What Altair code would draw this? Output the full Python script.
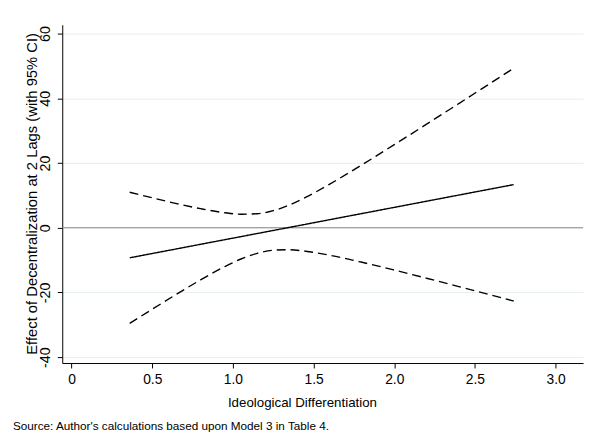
import altair as alt
import pandas as pd

# Ideological differentiation values at which the effect is evaluated
xs = [0.36, 0.5, 0.65, 0.8, 0.95, 1.05, 1.15, 1.25, 1.35, 1.45, 1.6, 1.8, 2.0, 2.2, 2.4, 2.6, 2.74]
# Marginal effect of decentralization (2 lags)
effect = [-9.30, -7.97, -6.55, -5.12, -3.70, -2.75, -1.80, -0.85, 0.10, 1.05, 2.48, 4.38, 6.28, 8.18, 10.08, 11.98, 13.31]
# Upper 95% CI
upper = [10.95, 9.23, 7.46, 5.87, 4.61, 4.17, 4.31, 5.26, 7.02, 9.36, 13.47, 19.44, 25.65, 31.97, 38.35, 44.76, 49.27]
# Lower 95% CI
lower = [-29.55, -25.17, -20.56, -16.11, -12.01, -9.67, -7.91, -6.96, -6.82, -7.26, -8.51, -10.68, -13.09, -15.61, -18.19, -20.80, -22.65]

x_ticks = [0, 0.5, 1.0, 1.5, 2.0, 2.5, 3.0]
y_ticks = [-40, -20, 0, 20, 40, 60]

x_title = "Ideological Differentiation"
y_title = "Effect of Decentralization at 2 Lags (with 95% CI)"
note = "Source: Author's calculations based upon Model 3 in Table 4."

FONT = "Liberation Sans"

rows = []
for name, vals in (("effect", effect), ("upper", upper), ("lower", lower)):
    for x, v in zip(xs, vals):
        rows.append({"x": x, "value": v, "series": name})
df = pd.DataFrame(rows)

x_scale = alt.Scale(domain=[-0.058, 3.17], nice=False, zero=False)
y_scale = alt.Scale(domain=[-41.8, 62.7], nice=False, zero=False)

x_axis = alt.Axis(
    values=x_ticks, title=x_title, grid=False,
    labelExpr="datum.value == 0 ? '0' : format(datum.value, '.1f')",
    labelFont=FONT, labelFontSize=14, labelColor="black", labelPadding=5,
    titleFont=FONT, titleFontSize=13.5, titleFontWeight="normal", titleColor="black",
    titleX=243, titleY=44, titleAnchor="start", titleAlign="center", titleBaseline="alphabetic",
    tickSize=5, tickColor="black", domainColor="black", domainWidth=1, tickWidth=1,
    labelFlush=False,
)
y_axis = alt.Axis(
    values=y_ticks, title=y_title, grid=True, gridColor="#E6EEF0", gridWidth=1,
    labelExpr="'' + datum.value",
    labelFont=FONT, labelFontSize=14.5, labelColor="black", labelPadding=8,
    labelAngle=270, labelAlign="center", labelBaseline="alphabetic",
    titleFont=FONT, titleFontSize=15, titleFontWeight="normal", titleColor="black",
    titleAngle=270, titleX=-26, titleY=171, titleAlign="center", titleBaseline="alphabetic",
    tickSize=5, tickColor="black", domainColor="black", domainWidth=1, tickWidth=1,
    labelFlush=False,
)

zero = alt.Chart(pd.DataFrame({"y": [0]})).mark_rule(color="#8a8a8a", strokeWidth=1).encode(
    y=alt.Y("y:Q", scale=y_scale, axis=y_axis)
)

lines = alt.Chart(df).mark_line(color="black", strokeWidth=1.4, interpolate="monotone").encode(
    x=alt.X("x:Q", scale=x_scale, axis=x_axis),
    y=alt.Y("value:Q", scale=y_scale, axis=y_axis),
    detail="series:N",
    strokeDash=alt.StrokeDash(
        "series:N",
        scale=alt.Scale(domain=["effect", "upper", "lower"], range=[[1, 0], [9, 5], [9, 5]]),
        legend=None,
    ),
)

note_text = alt.Chart(pd.DataFrame({"note": [note]})).mark_text(
    align="left", baseline="alphabetic", font=FONT, fontSize=11.9, color="black"
).encode(x=alt.value(-50), y=alt.value(411), text="note:N")

chart = alt.layer(zero, lines, note_text).properties(
    width=528, height=343,
    autosize=alt.AutoSizeParams(type="none"),
    padding={"left": 55, "top": 14, "right": 4, "bottom": 68},
    background="white",
).configure_view(stroke=None)

chart.save("out.html", embed_options={"renderer": "svg", "actions": False})
